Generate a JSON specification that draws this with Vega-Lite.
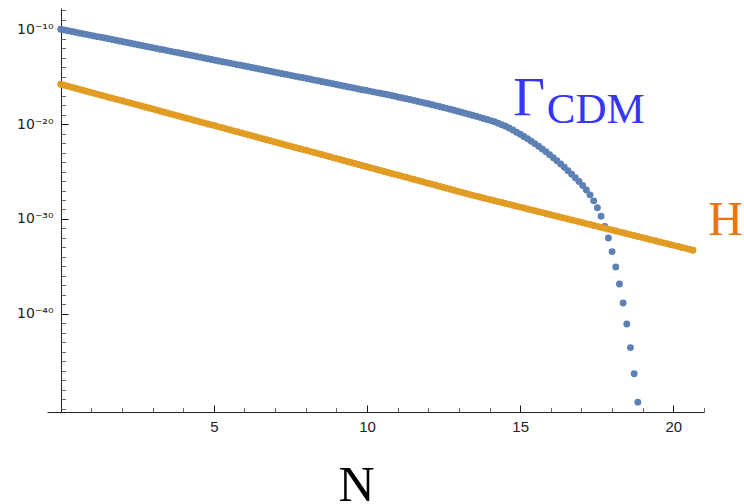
{
  "$schema": "https://vega.github.io/schema/vega-lite/v6.json",
  "width": 657,
  "height": 404,
  "autosize": {"type": "none"},
  "padding": {"left": 47, "top": 8, "right": 40, "bottom": 92},
  "background": "white",
  "config": {"view": {"stroke": null}, "axis": {"labelOverlap": false, "labelFlush": false, "grid": false}},
  "resolve": {"axis": {"x": "independent", "y": "independent"}},
  "data": {"values": [
    {"N":0,"G":-10.00,"H":-15.80},{"N":0.12,"G":-10.08,"H":-15.90},{"N":0.24,"G":-10.16,"H":-16.01},{"N":0.36,"G":-10.23,"H":-16.11},
    {"N":0.48,"G":-10.31,"H":-16.22},{"N":0.6,"G":-10.39,"H":-16.32},{"N":0.72,"G":-10.47,"H":-16.43},{"N":0.84,"G":-10.54,"H":-16.53},
    {"N":0.96,"G":-10.62,"H":-16.64},{"N":1.08,"G":-10.70,"H":-16.74},{"N":1.2,"G":-10.78,"H":-16.84},{"N":1.32,"G":-10.85,"H":-16.95},
    {"N":1.44,"G":-10.93,"H":-17.05},{"N":1.56,"G":-11.01,"H":-17.16},{"N":1.68,"G":-11.09,"H":-17.26},{"N":1.8,"G":-11.16,"H":-17.37},
    {"N":1.92,"G":-11.24,"H":-17.47},{"N":2.04,"G":-11.32,"H":-17.57},{"N":2.16,"G":-11.40,"H":-17.68},{"N":2.28,"G":-11.48,"H":-17.78},
    {"N":2.4,"G":-11.55,"H":-17.89},{"N":2.52,"G":-11.63,"H":-17.99},{"N":2.64,"G":-11.71,"H":-18.10},{"N":2.76,"G":-11.79,"H":-18.20},
    {"N":2.88,"G":-11.86,"H":-18.31},{"N":3.0,"G":-11.94,"H":-18.41},{"N":3.12,"G":-12.02,"H":-18.51},{"N":3.24,"G":-12.10,"H":-18.62},
    {"N":3.36,"G":-12.17,"H":-18.72},{"N":3.48,"G":-12.25,"H":-18.83},{"N":3.6,"G":-12.33,"H":-18.93},{"N":3.72,"G":-12.41,"H":-19.04},
    {"N":3.84,"G":-12.48,"H":-19.14},{"N":3.96,"G":-12.56,"H":-19.25},{"N":4.08,"G":-12.64,"H":-19.35},{"N":4.2,"G":-12.72,"H":-19.45},
    {"N":4.32,"G":-12.80,"H":-19.56},{"N":4.44,"G":-12.87,"H":-19.66},{"N":4.56,"G":-12.95,"H":-19.77},{"N":4.68,"G":-13.03,"H":-19.87},
    {"N":4.8,"G":-13.11,"H":-19.98},{"N":4.92,"G":-13.18,"H":-20.08},{"N":5.04,"G":-13.26,"H":-20.18},{"N":5.16,"G":-13.34,"H":-20.29},
    {"N":5.28,"G":-13.42,"H":-20.39},{"N":5.4,"G":-13.49,"H":-20.50},{"N":5.52,"G":-13.57,"H":-20.60},{"N":5.64,"G":-13.65,"H":-20.71},
    {"N":5.76,"G":-13.73,"H":-20.81},{"N":5.88,"G":-13.80,"H":-20.92},{"N":6.0,"G":-13.88,"H":-21.02},{"N":6.12,"G":-13.96,"H":-21.12},
    {"N":6.24,"G":-14.04,"H":-21.23},{"N":6.36,"G":-14.11,"H":-21.33},{"N":6.48,"G":-14.19,"H":-21.44},{"N":6.6,"G":-14.27,"H":-21.54},
    {"N":6.72,"G":-14.35,"H":-21.65},{"N":6.84,"G":-14.43,"H":-21.75},{"N":6.96,"G":-14.50,"H":-21.86},{"N":7.08,"G":-14.58,"H":-21.96},
    {"N":7.2,"G":-14.66,"H":-22.06},{"N":7.32,"G":-14.74,"H":-22.17},{"N":7.44,"G":-14.81,"H":-22.27},{"N":7.56,"G":-14.89,"H":-22.38},
    {"N":7.68,"G":-14.97,"H":-22.48},{"N":7.8,"G":-15.05,"H":-22.59},{"N":7.92,"G":-15.12,"H":-22.69},{"N":8.04,"G":-15.20,"H":-22.79},
    {"N":8.16,"G":-15.28,"H":-22.90},{"N":8.28,"G":-15.36,"H":-23.00},{"N":8.4,"G":-15.43,"H":-23.11},{"N":8.52,"G":-15.51,"H":-23.21},
    {"N":8.64,"G":-15.59,"H":-23.32},{"N":8.76,"G":-15.67,"H":-23.42},{"N":8.88,"G":-15.75,"H":-23.53},{"N":9.0,"G":-15.82,"H":-23.63},
    {"N":9.12,"G":-15.90,"H":-23.73},{"N":9.24,"G":-15.98,"H":-23.84},{"N":9.36,"G":-16.06,"H":-23.94},{"N":9.48,"G":-16.13,"H":-24.05},
    {"N":9.6,"G":-16.21,"H":-24.15},{"N":9.72,"G":-16.29,"H":-24.26},{"N":9.84,"G":-16.37,"H":-24.36},{"N":9.96,"G":-16.44,"H":-24.47},
    {"N":10.08,"G":-16.52,"H":-24.57},{"N":10.2,"G":-16.60,"H":-24.67},{"N":10.32,"G":-16.68,"H":-24.78},{"N":10.44,"G":-16.75,"H":-24.88},
    {"N":10.56,"G":-16.83,"H":-24.99},{"N":10.68,"G":-16.91,"H":-25.09},{"N":10.8,"G":-16.99,"H":-25.20},{"N":10.92,"G":-17.07,"H":-25.30},
    {"N":11.04,"G":-17.16,"H":-25.40},{"N":11.16,"G":-17.24,"H":-25.51},{"N":11.28,"G":-17.32,"H":-25.61},{"N":11.4,"G":-17.41,"H":-25.72},
    {"N":11.52,"G":-17.50,"H":-25.82},{"N":11.64,"G":-17.59,"H":-25.93},{"N":11.76,"G":-17.68,"H":-26.03},{"N":11.88,"G":-17.77,"H":-26.14},
    {"N":12.0,"G":-17.86,"H":-26.24},{"N":12.12,"G":-17.95,"H":-26.34},{"N":12.24,"G":-18.05,"H":-26.45},{"N":12.36,"G":-18.15,"H":-26.55},
    {"N":12.48,"G":-18.24,"H":-26.66},{"N":12.6,"G":-18.34,"H":-26.76},{"N":12.72,"G":-18.44,"H":-26.87},{"N":12.84,"G":-18.54,"H":-26.97},
    {"N":12.96,"G":-18.65,"H":-27.08},{"N":13.08,"G":-18.75,"H":-27.18},{"N":13.2,"G":-18.85,"H":-27.28},{"N":13.32,"G":-18.96,"H":-27.39},
    {"N":13.44,"G":-19.07,"H":-27.49},{"N":13.56,"G":-19.18,"H":-27.59},{"N":13.68,"G":-19.29,"H":-27.69},{"N":13.8,"G":-19.40,"H":-27.79},
    {"N":13.92,"G":-19.51,"H":-27.88},{"N":14.04,"G":-19.63,"H":-27.98},{"N":14.16,"G":-19.76,"H":-28.08},{"N":14.28,"G":-19.91,"H":-28.17},
    {"N":14.4,"G":-20.06,"H":-28.27},{"N":14.52,"G":-20.23,"H":-28.37},{"N":14.64,"G":-20.42,"H":-28.46},{"N":14.76,"G":-20.63,"H":-28.56},
    {"N":14.88,"G":-20.85,"H":-28.66},{"N":15.0,"G":-21.07,"H":-28.75},{"N":15.12,"G":-21.30,"H":-28.85},{"N":15.24,"G":-21.54,"H":-28.95},
    {"N":15.36,"G":-21.80,"H":-29.04},{"N":15.48,"G":-22.06,"H":-29.14},{"N":15.6,"G":-22.34,"H":-29.24},{"N":15.72,"G":-22.62,"H":-29.33},
    {"N":15.84,"G":-22.92,"H":-29.43},{"N":15.96,"G":-23.22,"H":-29.53},{"N":16.08,"G":-23.54,"H":-29.62},{"N":16.2,"G":-23.86,"H":-29.72},
    {"N":16.32,"G":-24.20,"H":-29.82},{"N":16.44,"G":-24.55,"H":-29.91},{"N":16.56,"G":-24.91,"H":-30.01},{"N":16.68,"G":-25.28,"H":-30.11},
    {"N":16.8,"G":-25.66,"H":-30.20},{"N":16.92,"G":-26.05,"H":-30.30},{"N":17.04,"G":-26.47,"H":-30.39},{"N":17.16,"G":-26.94,"H":-30.49},
    {"N":17.28,"G":-27.46,"H":-30.59},{"N":17.4,"G":-28.09,"H":-30.68},{"N":17.52,"G":-28.82,"H":-30.78},{"N":17.64,"G":-29.72,"H":-30.88},
    {"N":17.76,"G":-30.78,"H":-30.97},{"N":17.88,"G":-32.01,"H":-31.07},{"N":18.0,"G":-33.44,"H":-31.17},{"N":18.12,"G":-35.07,"H":-31.26},
    {"N":18.24,"G":-36.86,"H":-31.36},{"N":18.36,"G":-38.86,"H":-31.46},{"N":18.48,"G":-41.08,"H":-31.55},{"N":18.6,"G":-43.56,"H":-31.65},
    {"N":18.72,"G":-46.31,"H":-31.75},{"N":18.84,"G":-49.31,"H":-31.84},{"N":18.96,"H":-31.94},{"N":19.08,"H":-32.04},
    {"N":19.2,"H":-32.13},{"N":19.32,"H":-32.23},{"N":19.44,"H":-32.33},{"N":19.56,"H":-32.42},
    {"N":19.68,"H":-32.52},{"N":19.8,"H":-32.62},{"N":19.92,"H":-32.71},{"N":20.04,"H":-32.81},
    {"N":20.16,"H":-32.91},{"N":20.28,"H":-33.00},{"N":20.4,"H":-33.10},{"N":20.52,"H":-33.20},
    {"N":20.64,"H":-33.29}
  ]},
  "layer": [
    {
      "mark": {"type": "circle", "size": 48, "opacity": 1, "color": "#5E81B5"},
      "encoding": {
        "x": {"field": "N", "type": "quantitative",
          "scale": {"domain": [-0.447, 21.0], "nice": false, "zero": false},
          "axis": {
            "orient": "bottom",
            "values": [5, 10, 15, 20],
            "title": "N", "titleFont": "Liberation Serif", "titleFontSize": 50, "titleFontWeight": "normal",
            "titleColor": "#000", "titleX": 309, "titleY": 88, "titleAlign": "center", "titleBaseline": "alphabetic",
            "format": "d",
            "labelFont": "Liberation Sans", "labelFontSize": 15, "labelColor": "#222",
            "labelPadding": 14, "labelOverlap": false,
            "tickSize": -7, "tickColor": "#111",
            "domainColor": "#222"
          }},
        "y": {"field": "G", "type": "quantitative", "title": null,
          "scale": {"domain": [-50.35, -7.76], "nice": false, "zero": false},
          "axis": {
            "orient": "left",
            "values": [-40, -30, -20, -10],
            "offset": -14,
            "labelExpr": "datum.value == -10 ? '10⁻¹⁰' : datum.value == -20 ? '10⁻²⁰' : datum.value == -30 ? '10⁻³⁰' : '10⁻⁴⁰'",
            "labelFont": "DejaVu Sans", "labelFontSize": 14, "labelColor": "#222",
            "labelPadding": 15, "labelOverlap": false, "labelBaseline": "middle",
            "tickSize": -7, "tickColor": "#111",
            "domainColor": "#222"
          }}
      }
    },
    {
      "mark": {"type": "circle", "size": 48, "opacity": 1, "color": "#E19C24"},
      "encoding": {
        "x": {"field": "N", "type": "quantitative",
          "scale": {"domain": [-0.447, 21.0], "nice": false, "zero": false},
          "axis": {
            "orient": "bottom", "title": null,
            "values": [1,2,3,4,6,7,8,9,11,12,13,14,16,17,18,19,21],
            "labels": false, "domain": false,
            "tickSize": -4.5, "tickColor": "#666"
          }},
        "y": {"field": "H", "type": "quantitative", "title": null,
          "scale": {"domain": [-50.35, -7.76], "nice": false, "zero": false},
          "axis": {
            "orient": "left", "offset": -14,
            "values": [-50,-49,-48,-47,-46,-45,-44,-43,-42,-41,-39,-38,-37,-36,-35,-34,-33,-32,-31,-29,-28,-27,-26,-25,-24,-23,-22,-21,-19,-18,-17,-16,-15,-14,-13,-12,-11,-9,-8],
            "labels": false, "domain": false,
            "tickSize": -4.5, "tickColor": "#666"
          }}
      }
    },
    {
      "data": {"values": [{"N": 14.77, "L": -19.04, "label": "Γ"}]},
      "mark": {"type": "text", "font": "Liberation Serif", "fontSize": 55, "color": "#3535F2", "align": "left", "baseline": "alphabetic"},
      "encoding": {
        "x": {"field": "N", "type": "quantitative", "axis": null},
        "y": {"field": "L", "type": "quantitative", "axis": null},
        "text": {"field": "label"}
      }
    },
    {
      "data": {"values": [{"N": 15.87, "L": -19.91, "label": "CDM"}]},
      "mark": {"type": "text", "font": "Liberation Serif", "fontSize": 43, "color": "#3535F2", "align": "left", "baseline": "alphabetic"},
      "encoding": {
        "x": {"field": "N", "type": "quantitative", "axis": null},
        "y": {"field": "L", "type": "quantitative", "axis": null},
        "text": {"field": "label"}
      }
    },
    {
      "data": {"values": [{"N": 21.14, "L": -31.69, "label": "H"}]},
      "mark": {"type": "text", "font": "Liberation Serif", "fontSize": 48, "color": "#EC7410", "align": "left", "baseline": "alphabetic"},
      "encoding": {
        "x": {"field": "N", "type": "quantitative", "axis": null},
        "y": {"field": "L", "type": "quantitative", "axis": null},
        "text": {"field": "label"}
      }
    }
  ]
}
